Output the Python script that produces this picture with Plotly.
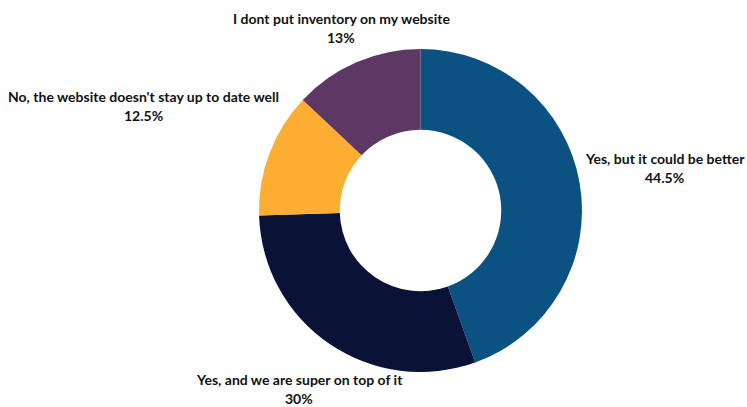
import math
import plotly.graph_objects as go

# Survey answers, listed clockwise from 12 o'clock
labels = [
    "Yes, but it could be better",
    "Yes, and we are super on top of it",
    "No, the website doesn't stay up to date well",
    "I dont put inventory on my website",
]
shares = [44.5, 30, 12.5, 13]
colors = ["#0B5182", "#0A1238", "#FCAE32", "#5E3864"]

W, H = 747, 407
cx, cy, r = 420.5, 210.5, 161.5      # donut centre and outer radius (px)
label_radius = [248, 216, 296, 199]  # distance of each label block from the centre (px)
line_gap = 19                         # spacing between the two label lines (px)

fig = go.Figure(
    go.Pie(
        labels=labels,
        values=shares,
        hole=0.5,
        sort=False,
        direction="clockwise",
        rotation=0,
        marker=dict(colors=colors, line=dict(width=0)),
        textinfo="none",
        domain=dict(
            x=[(cx - r) / W, (cx + r) / W],
            y=[1 - (cy + r) / H, 1 - (cy - r) / H],
        ),
        showlegend=False,
        hoverinfo="label+percent",
    )
)

# Labels sit on the mid-angle ray of their slice
font = dict(family="Lato", size=14, color="#111111", weight="bold")
total = sum(shares)
start = 0.0
for lab, val, dist in zip(labels, shares, label_radius):
    mid = (start + val / 2) / total * 2 * math.pi
    start += val
    px = cx + dist * math.sin(mid)
    py = cy - dist * math.cos(mid)
    for text, oy in ((lab, -line_gap / 2), (f"{val:g}%", line_gap / 2)):
        fig.add_annotation(
            x=px / W, y=1 - (py + oy) / H, xref="paper", yref="paper",
            text=text, showarrow=False, xanchor="center", yanchor="middle",
            font=font, borderpad=0,
        )

fig.update_layout(
    width=W,
    height=H,
    margin=dict(l=0, r=0, t=0, b=0),
    paper_bgcolor="white",
    plot_bgcolor="white",
)

fig.write_html("out.html")
